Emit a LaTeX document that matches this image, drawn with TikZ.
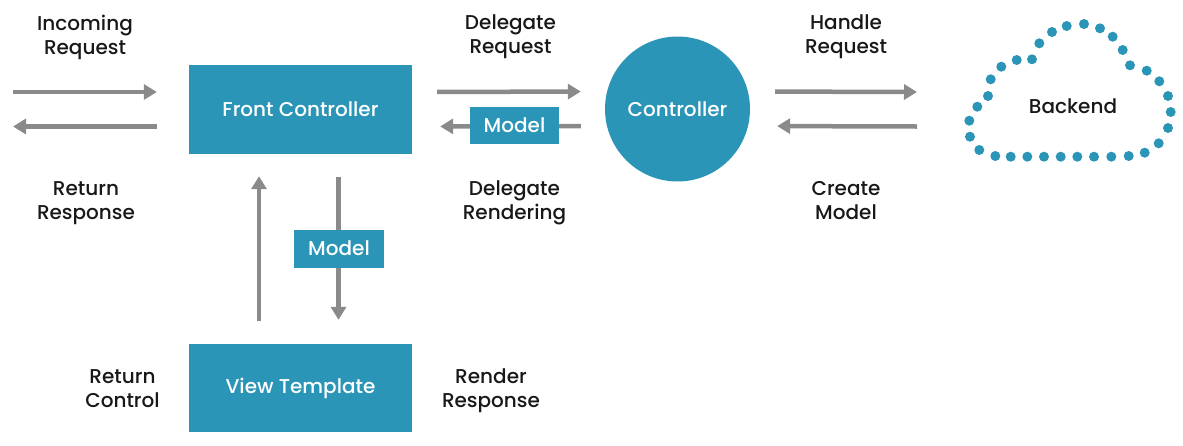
\documentclass[tikz,border=0pt]{standalone}
\usepackage{fontspec}
\setmainfont{Poppins}[UprightFont={* Medium}]
\usepackage{tikz}
\usetikzlibrary{positioning,calc,arrows.meta}
\definecolor{MVCBlue}{RGB}{42,149,183}
\definecolor{MVCGray}{RGB}{138,138,138}
\definecolor{MVCText}{RGB}{24,24,24}
\tikzset{
    boxnode/.style={rectangle, fill=MVCBlue, text=white, inner sep=0pt, font=\fontsize{20}{24}\selectfont},
    textnode/.style={align=center, text=MVCText, inner sep=0pt, font=\fontsize{20}{24}\selectfont},
    flow/.style={draw=MVCGray, line width=4.5pt, -{Triangle[length=13pt,width=15pt]}}
}

\begin{document}
\begin{tikzpicture}[x=1pt, y=-1pt]
    \useasboundingbox (0,0) rectangle (1183,445);

    % --- NODES ---
    \node[boxnode, minimum width=223pt, minimum height=89pt] (front) at (300.5,109.5) {Front Controller};
    \node[boxnode, minimum width=223pt, minimum height=88pt] (view) at (300.5,388) {View Template};
    \node[circle, fill=MVCBlue, text=white, inner sep=0pt, minimum size=145pt,
        font=\fontsize{20}{24}\selectfont] (ctrl) at (677.5,109) {Controller};
    \node[textnode] (backend) at (1073,106) {Backend};

    % Backend cloud (dots)
    \foreach \x/\y in {1066.7/26, 1084/24, 1100/28.3, 1112.7/36.7, 1122.7/50, 1130/65.3,
        1146.7/70.7, 1159.3/81.3, 1168/96, 1170.7/112, 1168/128, 1158.7/143.3, 1144.7/152.7,
        1128.7/156, 1111.3/156.7, 1094/156.7, 1077.3/156.7, 1060.7/156.7, 1044/156.7,
        1027.3/156.7, 1010.7/156.7, 995.3/156, 979.3/150, 970/136.7, 969.3/120.7,
        977.3/106.7, 988/96, 990.7/79.3, 1001.3/66.7, 1016.7/60, 1032/59.3, 1039.3/43.3, 1052/32}
        \fill[MVCBlue] (\x,\y) circle (5pt);

    % --- ARROWS ---
    \coordinate (client) at (13,109.5);
    \coordinate (cloud) at (917,109.5);
    \draw[flow] ([yshift=17.5pt]client) -- ([yshift=17.5pt]front.west) [shorten >=32pt];
    \draw[flow] ([yshift=-17pt]front.west) -- ([yshift=-17pt]client) [shorten <=32pt];
    \draw[flow] ([yshift=17.5pt]front.east) -- ([yshift=17.5pt]ctrl.west) [shorten <=25pt, shorten >=24pt];
    \draw[flow] ([yshift=-17pt]ctrl.west) -- ([yshift=-17pt]front.east) [shorten <=24pt, shorten >=28pt];
    \draw[flow] ([yshift=17.5pt]ctrl.east) -- ([yshift=17.5pt]cloud) [shorten <=25pt];
    \draw[flow] ([yshift=-17pt]cloud) -- ([yshift=-17pt]ctrl.east) [shorten >=27pt];
    \draw[flow] ([xshift=-41.5pt]view.north) -- ([xshift=-41.5pt]front.south) [shorten <=23pt, shorten >=22pt];
    \draw[flow] ([xshift=38pt]front.south) -- ([xshift=38pt]view.north) [shorten <=23pt, shorten >=24pt];

    % Model boxes on top of the arrows
    \node[boxnode, minimum width=89pt, minimum height=37pt] (model1) at (514.5,125.5) {Model};
    \node[boxnode, minimum width=90pt, minimum height=38pt] (model2) at (339,248.5) {Model};

    % --- LABELS ---
    \node[textnode] (incoming) at (85,37) {Incoming\\Request};
    \node[textnode] (response) at (86,203) {Return\\Response};
    \node[textnode] (delegreq) at (510.5,37) {Delegate\\Request};
    \node[textnode] (delegrend) at (514.5,203) {Delegate\\Rendering};
    \node[textnode] (handle) at (846,37) {Handle\\Request};
    \node[textnode] (create) at (846,201) {Create\\Model};
    \node[textnode] (retctrl) at (122.5,389) {Return\\Control};
    \node[textnode] (render) at (491,390.5) {Render\\Response};
\end{tikzpicture}
\end{document}
